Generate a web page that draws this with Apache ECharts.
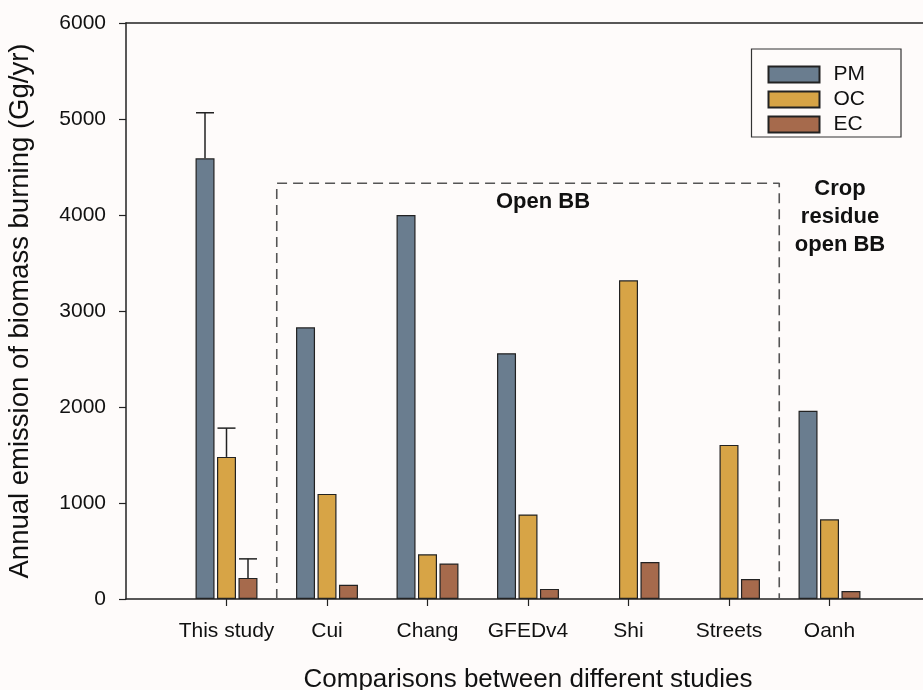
<!DOCTYPE html>
<html style="height: 100%">

<head>
	<meta charset="utf-8">
	<script src="https://cdn.jsdelivr.net/npm/echarts@6/dist/echarts.min.js"></script>
</head>

<body style="height: 100%; margin: 0; background: #fefbfa">
	<div id="container" style="width: 923px; height: 690px"></div>
	<script type="text/javascript">
		let studies = ['This study', 'Cui', 'Chang', 'GFEDv4', 'Shi', 'Streets', 'Oanh'];
		let pmValues = [4590, 2830, 4000, 2560, null, null, 1960];
		let ocValues = [1480, 1095, 465, 880, 3320, 1605, 830];
		let ecValues = [220, 148, 370, 105, 385, 208, 83];
		// upper error limits, only for "This study"
		let errorTops = [5065, 1780, 418];
		// dashed box around the open BB studies, in axis units
		let boxPoints = [[1.5, 0], [1.5, 4330], [6.5, 4330], [6.5, 0]];

		let font = 'Liberation Sans, Arial, sans-serif';
		let colors = ['#6a7d8f', '#d7a446', '#a66a4c'];

		// empty slot on each side so the groups sit 100px apart like the original
		let categories = [''].concat(studies, ['']);
		function pad(arr) {
			return [null].concat(arr, [null]);
		}

		let dom = document.getElementById('container');
		let myChart = echarts.init(dom);

		let barStyle = function (c) {
			return { color: c, borderColor: '#222', borderWidth: 1.2 };
		};

		let option = {
			backgroundColor: '#fefbfa',
			textStyle: { fontFamily: font },
			grid: { left: 126, right: -7, top: 23, bottom: 91, outerBoundsMode: 'none', containLabel: false },
			legend: {
				orient: 'vertical',
				right: 22,
				top: 49,
				padding: [15, 36, 2, 16],
				icon: 'rect',
				itemWidth: 51,
				itemHeight: 16,
				itemGap: 4,
				borderColor: '#333',
				borderWidth: 1.2,
				borderRadius: 0,
				data: ['PM', 'OC', 'EC'],
				textStyle: { fontSize: 21, color: '#111', fontFamily: font, padding: [0, 0, 0, 9] }
			},
			xAxis: [
				{
					type: 'category',
					data: categories,
					boundaryGap: false,
					name: 'Comparisons between different studies',
					nameLocation: 'middle',
					nameGap: 68,
					nameTextStyle: { fontSize: 26, color: '#111', fontFamily: font },
					axisLine: { lineStyle: { color: '#222', width: 1.5 } },
					axisTick: {
						length: 7,
						lineStyle: { color: '#222', width: 1.2 },
						interval: function (i) { return i > 0 && i < categories.length - 1; }
					},
					axisLabel: { interval: 0, fontSize: 21, color: '#111', margin: 22, fontFamily: font },
					splitLine: { show: false }
				},
				{
					type: 'value',
					position: 'top',
					min: 0,
					max: 8,
					axisLine: { show: true, lineStyle: { color: '#222', width: 1.5 } },
					axisTick: { show: false },
					axisLabel: { show: false },
					splitLine: { show: false }
				}
			],
			yAxis: {
				type: 'value',
				min: 0,
				max: 6000,
				interval: 1000,
				name: 'Annual emission of biomass burning (Gg/yr)',
				nameLocation: 'middle',
				nameGap: 92,
				nameTextStyle: { fontSize: 27.5, color: '#111', fontFamily: font },
				axisLine: { show: true, lineStyle: { color: '#222', width: 1.5 } },
				axisTick: { show: true, length: 7, lineStyle: { color: '#222', width: 1.2 } },
				axisLabel: {
					fontSize: 21, color: '#111', margin: 20, fontFamily: font,
					formatter: function (v) { return String(v); }
				},
				splitLine: { show: false }
			},
			series: [
				{
					name: 'PM', type: 'bar', data: pad(pmValues),
					barWidth: 19, barGap: '13%', itemStyle: barStyle(colors[0])
				},
				{
					name: 'OC', type: 'bar', data: pad(ocValues),
					barWidth: 19, barGap: '13%', itemStyle: barStyle(colors[1])
				},
				{
					name: 'EC', type: 'bar', data: pad(ecValues),
					barWidth: 19, barGap: '13%', itemStyle: barStyle(colors[2])
				},
				{
					type: 'custom',
					silent: true,
					z: 5,
					data: errorTops.map(function (v, i) { return [1, v, i]; }),
					renderItem: function (params, api) {
						let k = api.value(2);
						let off = (k - 1) * 21.5;
						let top = api.coord([api.value(0), api.value(1)]);
						let bottom = api.coord([api.value(0), [pmValues, ocValues, ecValues][k][0]]);
						let x = top[0] + off;
						let style = { stroke: '#222', lineWidth: 1.5 };
						return {
							type: 'group',
							children: [
								{ type: 'line', shape: { x1: x, y1: bottom[1], x2: x, y2: top[1] }, style: style },
								{ type: 'line', shape: { x1: x - 9, y1: top[1], x2: x + 9, y2: top[1] }, style: style }
							]
						};
					}
				},
				{
					type: 'line',
					xAxisIndex: 1,
					data: boxPoints,
					symbol: 'none',
					silent: true,
					lineStyle: { color: '#555', width: 1.6, type: [10, 6] }
				}
			],
			graphic: [
				{
					type: 'text', x: 543, y: 202,
					style: {
						text: 'Open BB', font: 'bold 22px ' + font, fill: '#111',
						align: 'center', verticalAlign: 'middle'
					}
				},
				{
					type: 'text', x: 840, y: 175,
					style: {
						text: 'Crop\nresidue\nopen BB', font: 'bold 22px ' + font, fill: '#111',
						align: 'center', verticalAlign: 'top', lineHeight: 28
					}
				}
			]
		};

		myChart.setOption(option);
	</script>
</body>

</html>
